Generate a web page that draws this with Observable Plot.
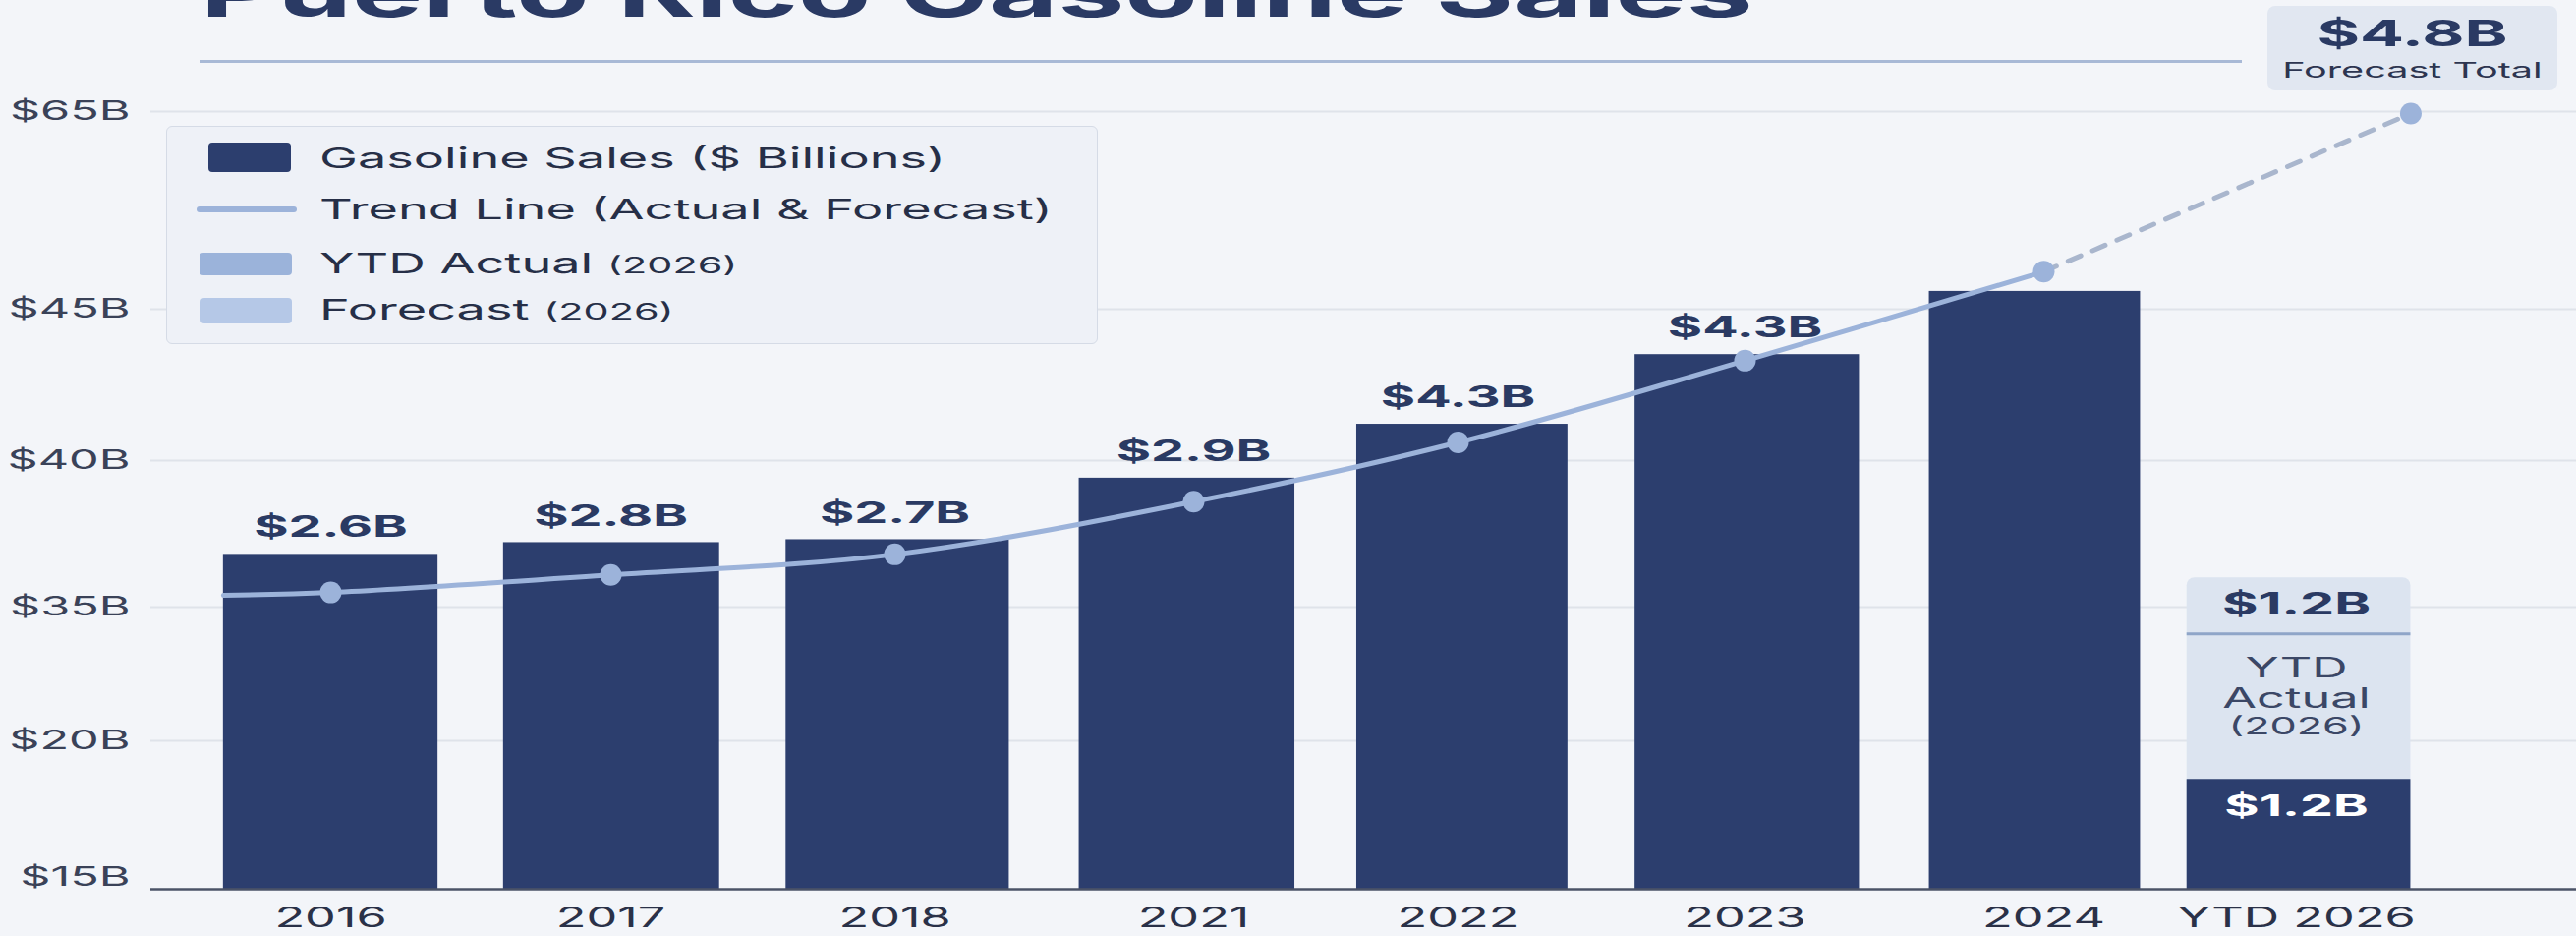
<!DOCTYPE html>
<html>
<head>
<meta charset="utf-8">
<script src="https://cdn.jsdelivr.net/npm/d3@7"></script>
<script src="https://cdn.jsdelivr.net/npm/@observablehq/plot@0.6"></script>
<style>
  html, body { margin: 0; padding: 0; background: #f3f5f9; }
  #wrap { position: relative; width: 2621px; height: 952px; overflow: hidden; font-family: Inter, "DejaVu Sans", sans-serif; }
  #chart { position: absolute; left: 0; top: 0; }
  .title { position: absolute; left: 204px; top: -42px; font-size: 69px; line-height: 1; font-weight: 700; color: #2a3a64; white-space: nowrap; transform-origin: left top; transform: scaleX(1.757); }
  .trule { position: absolute; left: 204px; top: 61px; width: 2077px; height: 3px; background: #a8b9d6; }
  .legend { position: absolute; left: 169px; top: 128px; width: 946px; height: 220px; background: #eef1f7; border: 1.5px solid #d5dbe6; border-radius: 6px; }
  .sw { position: absolute; border-radius: 4px; }
  .lt { position: absolute; left: 155px; font-size: 29px; line-height: 1; color: #262f47; white-space: nowrap; transform-origin: left center; transform: scaleX(1.8); }
  .lt small { font-size: 23px; }
  .fbox { position: absolute; left: 2307px; top: 6px; width: 295px; height: 86px; background: #e1e7f1; border-radius: 8px; }
  .fb1, .fb2 { position: absolute; left: 0; width: 100%; text-align: center; line-height: 1; white-space: nowrap; transform: scaleX(1.8); transform-origin: center; }
  .fb1 { top: 9px; font-size: 37px; font-weight: 700; color: #2a3a63; }
  .fb2 { top: 54px; font-size: 22px; color: #2d3550; }
</style>
</head>
<body>
<div id="wrap">
  <div id="chart"></div>
  <div class="title" id="title"></div>
  <div class="trule"></div>
  <div class="legend" id="legend"></div>
  <div class="fbox" id="fbox"></div>
</div>
<script>
// ---- data ----
const titleText = "Puerto Rico Gasoline Sales";
const categories = ["2016", "2017", "2018", "2021", "2022", "2023", "2024", "YTD 2026"];
// bar tops as drawn against the chart's own (uneven) value axis
const salesAxis = [36.8, 37.2, 37.3, 39.4, 41.2, 43.5, 46.8];
const salesLabels = ["$2.6B", "$2.8B", "$2.7B", "$2.9B", "$4.3B", "$4.3B", ""];
const ytdActualValue = 18.7;
const ytdForecastValue = 36.0;
const ytdActualLabel = "$1.2B";
const ytdForecastLabel = "$1.2B";
const ytdNote = ["YTD", "Actual", "(2026)"];
// trend line: a lead-in point, then one per year 2016..2024, then the forecast end
const trendValues = [35.4, 35.5, 36.1, 36.8, 38.6, 40.6, 43.3, 48.8];
const forecastValue = 64.8;
const forecastTotalLabel = "$4.8B";
const forecastTotalText = "Forecast Total";
const yTicks = [15, 20, 35, 40, 45, 65];
const yTickLabels = ["$15B", "$20B", "$35B", "$40B", "$45B", "$65B"];
const legendItems = [
  {kind: "bar", text: "Gasoline Sales ($ Billions)", small: ""},
  {kind: "line", text: "Trend Line (Actual & Forecast)", small: ""},
  {kind: "ytd", text: "YTD Actual ", small: "(2026)"},
  {kind: "fc", text: "Forecast ", small: "(2026)"}
];

// ---- style ----
const NAVY = "#2c3e6e";
const TREND = "#9cb3da";
const HW = 0.383;           // half bar width, in category steps
const K = 1.8;              // horizontal text stretch of the reference

const bars = salesAxis.map((v, i) => ({i, v, label: salesLabels[i]}));
const trend = [{x: -HW, y: trendValues[0]}].concat(trendValues.slice(1).map((y, i) => ({x: i, y})));
const last = trend[trend.length - 1];
const endPt = {x: categories.length - 1 + HW, y: forecastValue};
const dashed = [last, endPt];
const dots = trend.slice(1).concat([endPt]);
const yi = categories.length - 1;
const fmtTick = d => yTickLabels[yTicks.indexOf(d)];

const svg = Plot.plot({
  width: 2621,
  height: 952,
  marginLeft: 153, marginRight: 0, marginTop: 0, marginBottom: 0,
  style: {background: "transparent", fontFamily: "Inter, sans-serif", overflow: "visible"},
  x: {type: "linear", domain: [0, 1, 2, 3, 4, 5, 6, 7, 8], range: [336, 621, 910, 1214, 1483, 1775, 2079, 2336, 2640], axis: null},
  y: {type: "linear", domain: yTicks, range: [904, 753, 617, 468, 314, 113], axis: null},
  marks: [
    Plot.gridY(yTicks.slice(1), {stroke: "#dfe3ea", strokeOpacity: 1, strokeWidth: 2}),
    Plot.text(yTicks.slice(1), {y: d => d, text: fmtTick, frameAnchor: "left", textAnchor: "end", dx: -21, fontSize: 27, fill: "#3a4258"}),
    Plot.text(yTicks.slice(0, 1), {y: d => d, text: fmtTick, frameAnchor: "left", textAnchor: "end", dx: -21, dy: -12, fontSize: 27, fill: "#3a4258"}),
    Plot.rectY(bars, {x1: d => d.i - HW, x2: d => d.i + HW, y1: yTicks[0], y2: "v", fill: NAVY}),
    Plot.text(bars, {x: "i", y: "v", text: "label", dy: -27, fontSize: 30, fontWeight: 700, fill: "#2a3a63"}),
    Plot.rectY([ytdForecastValue], {x1: yi - HW - 0.05, x2: yi + HW, y1: yTicks[0], y2: d => d, fill: "#dce4f0", rx: 8}),
    Plot.ruleY([ytdForecastValue], {x1: yi - HW - 0.05, x2: yi + HW, dy: 57, stroke: "#8fa5c8", strokeWidth: 3}),
    Plot.rectY([ytdActualValue], {x1: yi - HW - 0.05, x2: yi + HW, y1: yTicks[0], y2: d => d, fill: NAVY}),
    Plot.text([ytdForecastValue], {x: yi, y: d => d, text: () => ytdForecastLabel, dy: 27, fontSize: 31, fontWeight: 700, fill: "#2a3a63"}),
    Plot.text([ytdForecastValue], {x: yi, y: d => d, text: () => ytdNote[0], dy: 92, fontSize: 28, fill: "#3b4766"}),
    Plot.text([ytdForecastValue], {x: yi, y: d => d, text: () => ytdNote[1], dy: 123, fontSize: 28, fill: "#3b4766"}),
    Plot.text([ytdForecastValue], {x: yi, y: d => d, text: () => ytdNote[2], dy: 152, fontSize: 24, fill: "#3b4766"}),
    Plot.text([ytdActualValue], {x: yi, y: d => d, text: () => ytdActualLabel, dy: 28, fontSize: 30, fontWeight: 700, fill: "#ffffff"}),
    Plot.ruleY([yTicks[0]], {stroke: "#4b5367", strokeWidth: 2.5}),
    Plot.line(trend, {x: "x", y: "y", curve: "catmull-rom", stroke: TREND, strokeWidth: 5}),
    Plot.line(dashed, {x: "x", y: "y", stroke: "#a9b6cd", strokeWidth: 5, strokeDasharray: "14,13"}),
    Plot.dot(dots, {x: "x", y: "y", r: 11, fill: TREND}),
    Plot.text(categories, {x: (d, i) => i, text: d => d, frameAnchor: "bottom", lineAnchor: "middle", dy: -18, fontSize: 28, fill: "#2a3148"})
  ]
});

// horizontal stretch of every label, around its own anchor
svg.querySelectorAll("text").forEach(t => {
  const tr = t.getAttribute("transform") || "";
  t.setAttribute("transform", tr + ` scale(${K},1)`);
});
document.getElementById("chart").appendChild(svg);

document.getElementById("title").textContent = titleText;

// legend
const lg = document.getElementById("legend");
const swatch = {
  bar: "left:42px;top:16px;width:84px;height:30px;background:" + NAVY,
  line: "left:30px;top:81px;width:102px;height:6px;border-radius:3px;background:" + TREND,
  ytd: "left:33px;top:128px;width:94px;height:23px;background:#9bb3da",
  fc: "left:34px;top:174px;width:93px;height:26px;background:#b5c8e7"
};
const textTop = [17, 69, 124, 171];
legendItems.forEach((it, i) => {
  const s = document.createElement("div");
  s.className = "sw"; s.style.cssText = swatch[it.kind];
  lg.appendChild(s);
  const t = document.createElement("div");
  t.className = "lt"; t.style.top = textTop[i] + "px";
  t.textContent = it.text;
  if (it.small) { const sm = document.createElement("small"); sm.textContent = it.small; t.appendChild(sm); }
  lg.appendChild(t);
});

// forecast total box
const fb = document.getElementById("fbox");
const a = document.createElement("div"); a.className = "fb1"; a.textContent = forecastTotalLabel; fb.appendChild(a);
const b = document.createElement("div"); b.className = "fb2"; b.textContent = forecastTotalText; fb.appendChild(b);
</script>
</body>
</html>
